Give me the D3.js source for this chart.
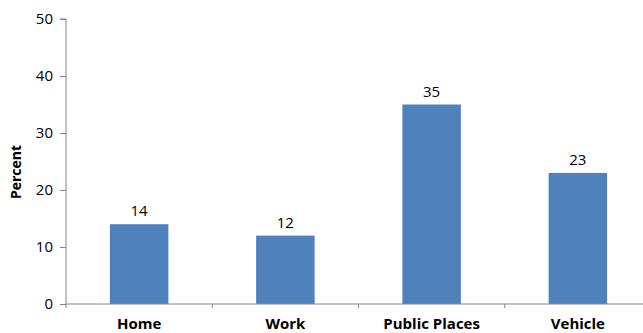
<!DOCTYPE html>
<html>
<head>
<meta charset="utf-8">
<script src="https://cdn.jsdelivr.net/npm/d3@7"></script>
<style>
  body { margin: 0; background: #fff; }
  text { font-family: "Open Sans", sans-serif; fill: #000; }
</style>
</head>
<body>
<div id="chart"></div>
<script>
// data
const categories = ['Home', 'Work', 'Public Places', 'Vehicle'];
const percents = [14, 12, 35, 23];
const yTicks = [0, 10, 20, 30, 40, 50];

const width = 643, height = 333;
const plotLeft = 66, plotTop = 19, plotBottom = 304;
// the plot area runs a bit past the right edge of the picture
const plotRight = 651;

const svg = d3.select('#chart')
  .append('svg')
  .attr('width', width)
  .attr('height', height);

const xScale = d3.scaleBand()
  .domain(categories)
  .range([plotLeft, plotRight]);

const yScale = d3.scaleLinear()
  .domain([0, 50])
  .range([plotBottom, plotTop]);

const barW = xScale.bandwidth() * 0.4;

//bars
svg.append('g')
  .selectAll('rect')
  .data(categories)
  .join('rect')
  .attr('x', c => xScale(c) + (xScale.bandwidth() - barW) / 2)
  .attr('width', barW)
  .attr('y', (c, i) => yScale(percents[i]))
  .attr('height', (c, i) => plotBottom - yScale(percents[i]))
  .attr('fill', '#4f81bd');

//value labels
svg.append('g')
  .selectAll('text')
  .data(categories)
  .join('text')
  .attr('x', c => xScale(c) + xScale.bandwidth() / 2)
  .attr('y', (c, i) => yScale(percents[i]) - 8)
  .attr('text-anchor', 'middle')
  .style('font-size', '15px')
  .text((c, i) => percents[i]);

//y axis
const yAxis = svg.append('g')
  .attr('transform', `translate(${plotLeft},0)`)
  .call(d3.axisLeft(yScale).tickValues(yTicks).tickSize(6).tickPadding(7));
yAxis.select('.domain').attr('d', `M-6,${plotTop}H0V${plotBottom + 4}`).attr('stroke', '#868686');
yAxis.selectAll('.tick line').attr('stroke', '#868686');
yAxis.selectAll('.tick text').style('font-size', '15px').attr('fill', '#000');

//x axis line with category boundary ticks
svg.append('line')
  .attr('x1', plotLeft).attr('x2', width)
  .attr('y1', plotBottom).attr('y2', plotBottom)
  .attr('stroke', '#868686');
svg.append('g')
  .selectAll('line')
  .data(categories.slice(1))
  .join('line')
  .attr('x1', c => xScale(c)).attr('x2', c => xScale(c))
  .attr('y1', plotBottom).attr('y2', plotBottom + 4)
  .attr('stroke', '#868686');

//category labels
svg.append('g')
  .selectAll('text')
  .data(categories)
  .join('text')
  .attr('x', c => xScale(c) + xScale.bandwidth() / 2)
  .attr('y', 329)
  .attr('text-anchor', 'middle')
  .style('font-size', '15px')
  .style('font-weight', 'bold')
  .text(c => c);

//y axis title
svg.append('text')
  .attr('text-anchor', 'middle')
  .attr('transform', 'translate(21,172) rotate(-90)')
  .style('font-size', '14px')
  .style('font-weight', 'bold')
  .text('Percent');
</script>
</body>
</html>
